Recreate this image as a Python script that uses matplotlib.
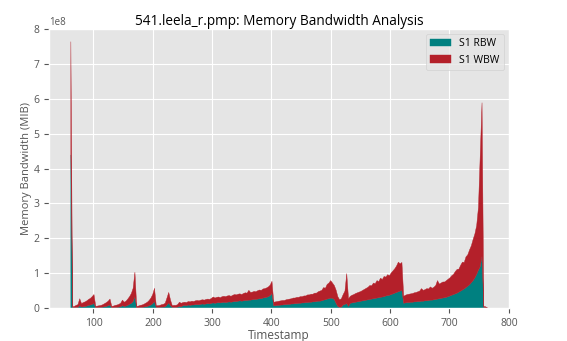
import numpy as np
import matplotlib
matplotlib.use("Agg")
import matplotlib.pyplot as plt

# Timestamps (seconds), sampled every 3 s
timestamps = np.arange(61, 766, 3)

# Read bandwidth, S1 (in 1e6 MiB)
rbw = [
    440, 3, 2, 3, 3, 8, 4, 5, 6, 7, 9, 10, 12, 14,
    2, 2, 3, 3, 4, 5, 6, 8, 10,
    2, 2, 3, 3, 4, 5, 8, 6, 7, 9, 12, 15, 20, 34,
    2, 2, 3, 3, 4, 5, 6, 8, 10, 14, 20,
    3, 3, 3, 4, 4, 5, 10, 16, 8,
    3, 3, 3, 4, 6, 5, 8,
    9, 8, 10, 9, 10, 10, 11, 11, 11, 12, 13, 12, 13, 14, 13, 15, 16,
    15, 16, 17, 16, 17, 18, 17, 18, 19, 18, 19, 20, 20, 21, 22, 21, 22,
    23, 23, 24, 24, 25, 26, 26, 27, 28, 28, 30, 31, 32, 34, 37, 43,
    8, 8, 9, 9, 10, 10, 11, 11, 12, 12, 13, 13, 14, 14, 15, 15, 16, 16,
    17, 17, 18, 18, 19, 19, 20, 21, 21, 22, 24, 25, 27, 28, 30,
    29, 26, 15, 6, 3, 4, 10, 12, 14, 6,
    15, 16, 17, 18, 19, 20, 21, 22, 23, 24, 25, 26, 27, 28, 29, 30, 31,
    32, 33, 34, 36, 37, 38, 40, 42, 44, 46, 48, 50, 52,
    15, 16, 17, 17, 18, 18, 19, 19, 20, 20, 21, 21, 22, 22, 23, 24, 24,
    25, 26, 27, 28, 29, 30, 31, 32, 34, 36,
    38, 40, 42, 44, 47, 50, 53, 56, 60, 64, 68, 74, 80, 88, 98, 110,
    120, 150, 3, 2, 1,
]

# Write bandwidth, S1 (in 1e6 MiB)
wbw = [
    325, 2, 4, 6, 8, 20, 10, 12, 13, 15, 17, 19, 22, 26,
    4, 5, 5, 6, 7, 9, 11, 13, 17,
    4, 5, 6, 7, 8, 10, 16, 12, 14, 18, 22, 28, 38, 70,
    4, 5, 6, 7, 8, 10, 12, 15, 20, 26, 38,
    5, 5, 6, 7, 8, 10, 20, 30, 16,
    5, 6, 6, 7, 12, 10, 9,
    9, 9, 10, 10, 11, 10, 11, 12, 11, 12, 12, 12, 13, 13, 13, 14, 17,
    15, 16, 16, 15, 17, 17, 17, 18, 18, 17, 19, 20, 19, 20, 20, 19, 21,
    22, 21, 28, 22, 22, 23, 22, 24, 25, 24, 26, 26, 27, 28, 30, 35,
    10, 11, 11, 12, 12, 13, 12, 14, 14, 15, 15, 17, 16, 18, 17, 19, 18, 20,
    19, 22, 21, 23, 22, 25, 24, 27, 29, 30, 36, 33, 42, 45, 50,
    44, 40, 38, 28, 22, 24, 30, 38, 86, 22,
    20, 22, 23, 25, 26, 27, 28, 30, 32, 34, 36, 40, 38, 45, 42, 50, 46,
    55, 50, 58, 54, 60, 56, 62, 66, 70, 76, 85, 78, 80,
    20, 22, 23, 24, 24, 25, 26, 27, 28, 30, 36, 31, 32, 35, 33, 38, 34,
    36, 40, 53, 42, 44, 46, 45, 48, 50, 52,
    56, 58, 64, 68, 66, 74, 80, 76, 88, 90, 100, 106, 118, 126, 140, 180,
    320, 440, 3, 3, 1,
]

scale = 1e6

plt.style.use("ggplot")
plt.rcParams["font.family"] = ["Open Sans", "DejaVu Sans"]
fig = plt.figure(figsize=(5.67, 3.41), dpi=100)
ax = fig.add_axes([0.0864, 0.0968, 0.811, 0.818])

ax.stackplot(timestamps,
             np.array(rbw) * scale,
             np.array(wbw) * scale,
             colors=["teal", "#b4202a"],
             labels=["S1 RBW", "S1 WBW"],
             linewidth=0.3, edgecolor="face")

ax.set_xlim(25, 800)
ax.set_ylim(0, 8e8)
ax.set_title("541.leela_r.pmp: Memory Bandwidth Analysis", fontsize=9.8, pad=3)
ax.set_xlabel("Timestamp", fontsize=8.5, labelpad=0)
ax.set_ylabel("Memory Bandwidth (MIB)", fontsize=8, labelpad=1)
ax.tick_params(labelsize=7.5)
ax.yaxis.get_offset_text().set_fontsize(7)
ax.legend(loc="upper right", fontsize=7.5)

plt.savefig("out.png", dpi=100)
